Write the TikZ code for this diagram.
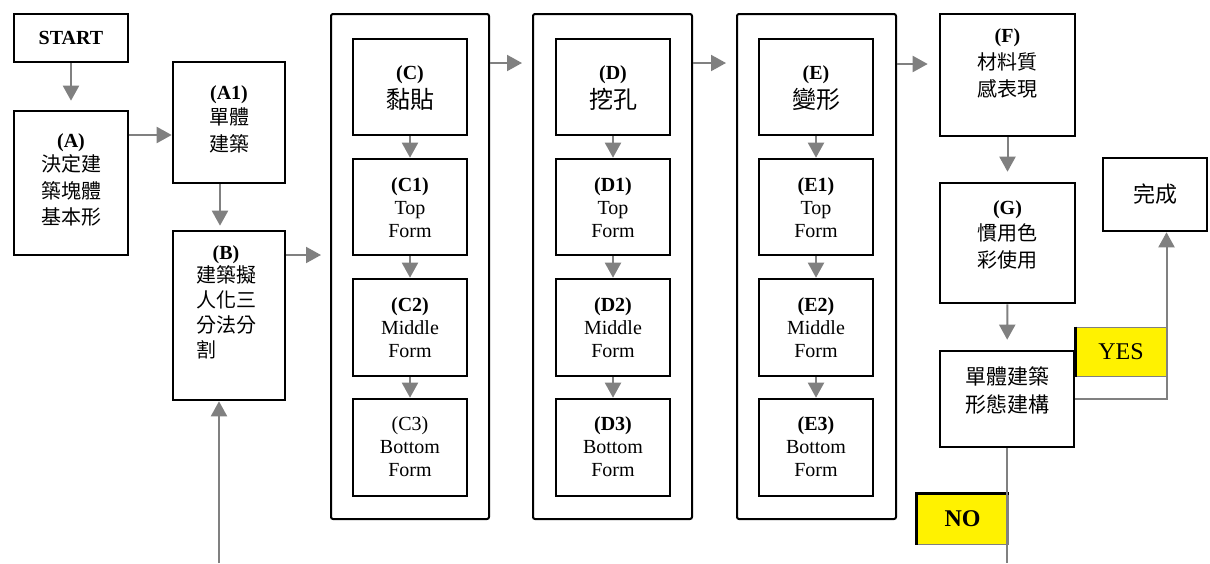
\documentclass[tikz,border=0pt]{standalone}
\usepackage{fontspec}
\setmainfont{Liberation Serif}
\newfontfamily\cjk{Noto Sans CJK TC}
\usetikzlibrary{arrows.meta}
\begin{document}
\begin{tikzpicture}[x=1pt,y=-1pt,
  bx/.style={draw=black, line width=2.6pt, inner sep=0pt, fill=white},
  colbox/.style={draw=black, line width=2pt, rounded corners=2pt, inner sep=0pt},
  arr/.style={draw=gray, line width=2pt, -{Triangle[length=15pt,width=16pt]}},
  plainline/.style={draw=gray, line width=2pt},
  txt/.style={inner sep=0pt, align=center, anchor=north, font=\fontsize{20}{26.5}\selectfont},
  ctxt/.style={txt, font=\fontsize{20}{23}\selectfont},
  flag/.style={draw=gray, line width=1pt, fill=yellow, inner sep=0pt, font=\fontsize{24}{28}\selectfont}
]
\useasboundingbox (0,0) rectangle (1210,563);
\fill[white] (0,0) rectangle (1210,563);

% left part
\node[bx, minimum width=114pt, minimum height=48pt, font=\fontsize{20}{24}\selectfont\bfseries] (start) at (71,38) {START};
\node[bx, minimum width=114pt, minimum height=144pt] (A) at (71,183) {};
\node[txt] (At) at (71,133) {\textbf{(A)}\\[-2pt]\cjk 決定建\\\cjk 築塊體\\\cjk 基本形};
\node[bx, minimum width=112pt, minimum height=121pt] (A1) at (229,122.5) {};
\node[txt] (A1t) at (229,85) {\textbf{(A1)}\\[-1pt]\cjk 單體\\\cjk 建築};
\node[bx, minimum width=112pt, minimum height=169pt] (B) at (229,315.5) {};
\node[txt, font=\fontsize{20}{25}\selectfont] (Bt) at (226,245) {\textbf{(B)}\\[-2pt]\cjk 建築擬\\\cjk 人化三\\\cjk 分法分\\\cjk 割\phantom{法分}};

% columns
\node[colbox, minimum width=158pt, minimum height=505pt] (colC) at (410,266.5) {};
\node[colbox, minimum width=159pt, minimum height=505pt] (colD) at (612.5,266.5) {};
\node[colbox, minimum width=159pt, minimum height=505pt] (colE) at (816.5,266.5) {};

\node[bx, minimum width=114pt, minimum height=96pt] (C) at (410,87) {};
\node[bx, minimum width=114pt, minimum height=96pt] (C1) at (410,207) {};
\node[bx, minimum width=114pt, minimum height=97pt] (C2) at (410,327.5) {};
\node[bx, minimum width=114pt, minimum height=97pt] (C3) at (410,447.5) {};
\node[txt] (Ct) at (410,65) {\textbf{(C)}\\[3pt]\fontsize{24}{26}\selectfont\cjk 黏貼};
\node[ctxt] (C1t) at (410,177) {\textbf{(C1)}\\Top\\Form};
\node[ctxt] (C2t) at (410,297) {\textbf{(C2)}\\Middle\\Form};
\node[ctxt] (C3t) at (410,416) {(C3)\\Bottom\\Form};

\node[bx, minimum width=114pt, minimum height=96pt] (D) at (613,87) {};
\node[bx, minimum width=114pt, minimum height=96pt] (D1) at (613,207) {};
\node[bx, minimum width=114pt, minimum height=97pt] (D2) at (613,327.5) {};
\node[bx, minimum width=114pt, minimum height=97pt] (D3) at (613,447.5) {};
\node[txt] (Dt) at (613,65) {\textbf{(D)}\\[3pt]\fontsize{24}{26}\selectfont\cjk 挖孔};
\node[ctxt] (D1t) at (613,177) {\textbf{(D1)}\\Top\\Form};
\node[ctxt] (D2t) at (613,297) {\textbf{(D2)}\\Middle\\Form};
\node[ctxt] (D3t) at (613,416) {\textbf{(D3)}\\Bottom\\Form};

\node[bx, minimum width=114pt, minimum height=96pt] (E) at (816,87) {};
\node[bx, minimum width=114pt, minimum height=96pt] (E1) at (816,207) {};
\node[bx, minimum width=114pt, minimum height=97pt] (E2) at (816,327.5) {};
\node[bx, minimum width=114pt, minimum height=97pt] (E3) at (816,447.5) {};
\node[txt] (Et) at (816,65) {\textbf{(E)}\\[3pt]\fontsize{24}{26}\selectfont\cjk 變形};
\node[ctxt] (E1t) at (816,177) {\textbf{(E1)}\\Top\\Form};
\node[ctxt] (E2t) at (816,297) {\textbf{(E2)}\\Middle\\Form};
\node[ctxt] (E3t) at (816,416) {\textbf{(E3)}\\Bottom\\Form};

% right part
\node[bx, minimum width=135pt, minimum height=122pt] (F) at (1007.5,75) {};
\node[txt, font=\fontsize{20}{27}\selectfont] (Ft) at (1007.5,28) {\textbf{(F)}\\\cjk 材料質\\\cjk 感表現};
\node[bx, minimum width=135pt, minimum height=120pt] (G) at (1007.5,243) {};
\node[txt] (Gt) at (1007.5,200) {\textbf{(G)}\\\cjk 慣用色\\\cjk 彩使用};
\node[bx, minimum width=134pt, minimum height=96pt] (dec) at (1007,399) {};
\node[txt, font=\fontsize{21}{28}\selectfont] (dect) at (1007,366) {\cjk 單體建築\\\cjk 形態建構};
\node[bx, minimum width=104pt, minimum height=73pt, font=\fontsize{22}{24}\selectfont\cjk] (done) at (1155,194.5) {完成};

\node[flag, minimum width=90pt, minimum height=49pt] (yes) at (1121,351.5) {YES};
\draw[black, line width=2.2pt] (yes.north west) -- (yes.south west);
\node[flag, minimum width=91pt, minimum height=50pt, font=\fontsize{24}{28}\selectfont\bfseries] (no) at (962.5,519) {NO};
\draw[black, line width=2.2pt] (no.south west) -- (no.north west) -- (no.north east);

% connectors
\draw[arr, shorten >=9pt] (start) -- (A);
\draw[arr] (A.east |- 0,135) -- (A1.west |- 0,135);
\draw[arr, shorten >=4pt] (A1.south -| 220,0) -- (B.north -| 220,0);
\coordinate (bot) at (219,563);
\draw[arr] (bot) -- (B.south -| bot);
\draw[arr, shorten >=9pt] (B.east |- 0,255) -- (colC.west |- 0,255);
\draw[arr, shorten >=10pt] (colC.east |- 0,63) -- (colD.west |- 0,63);
\draw[arr, shorten >=10pt] (colD.east |- 0,63) -- (colE.west |- 0,63);
\draw[arr, shorten >=11pt] (colE.east |- 0,64) -- (F.west |- 0,64);
\draw[arr] (C) -- (C1);
\draw[arr] (C1) -- (C2);
\draw[arr] (C2) -- (C3);
\draw[arr] (D) -- (D1);
\draw[arr] (D1) -- (D2);
\draw[arr] (D2) -- (D3);
\draw[arr] (E) -- (E1);
\draw[arr] (E1) -- (E2);
\draw[arr] (E2) -- (E3);
\draw[arr, shorten >=10pt] (F) -- (G);
\draw[arr, shorten >=10pt] (G) -- (dec);
\draw[arr] (dec.east) -| (done.south -| yes.east);
\coordinate (noend) at (1007,563);
\draw[plainline] (dec.south) -- (noend);
\end{tikzpicture}
\end{document}
